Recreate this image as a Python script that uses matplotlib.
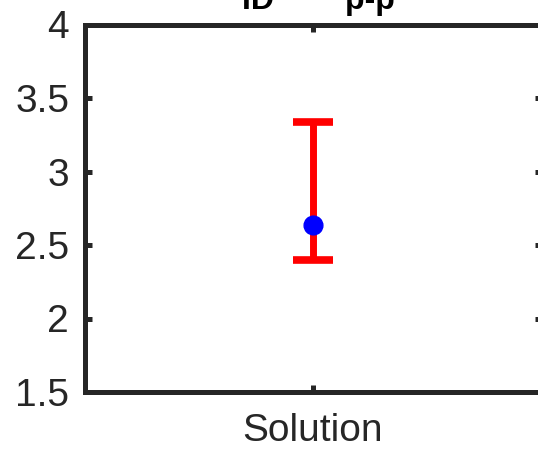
import matplotlib.pyplot as plt
import numpy as np

# single group, mean with upper/lower bounds
groups = ["Solution"]
means = [2.635]
lower = [2.398]
upper = [3.337]

plt.rcParams["font.family"] = ["Liberation Sans", "DejaVu Sans"]

fig = plt.figure(figsize=(5.38, 4.49), dpi=100)
# axes run a bit past the right edge, like the cropped original
ax = fig.add_axes([84.5 / 538, (449 - 392) / 449, 457 / 538, 367.5 / 449])

x = np.arange(len(groups))
err = [np.array(means) - np.array(lower), np.array(upper) - np.array(means)]
ax.errorbar(x, means, yerr=err, fmt="none", ecolor="red", elinewidth=5,
            capsize=14.4, capthick=5.5, zorder=2)
ax.plot(x, means, "o", color="blue", markersize=13.5, zorder=3)

ax.set_xlim(-1, 1)
ax.set_ylim(1.5, 4)
ax.set_xticks(x)
ax.set_xticklabels(groups)
ax.set_yticks([1.5, 2, 2.5, 3, 3.5, 4])
ax.set_yticklabels(["1.5", "2", "2.5", "3", "3.5", "4"])

dark = "#262626"
for s in ax.spines.values():
    s.set_linewidth(3.6)
    s.set_color(dark)
ax.tick_params(direction="in", length=5, width=3.6, colors=dark, labelsize=28,
               top=True, right=True)
ax.tick_params(axis="x", pad=15)
ax.tick_params(axis="y", pad=11)

fig.text(318 / 538, 1 - 9 / 449, "ID        p-p", ha="center", va="baseline",
         fontsize=23, fontweight="bold", color="black")

fig.savefig("out.png", dpi=100)
